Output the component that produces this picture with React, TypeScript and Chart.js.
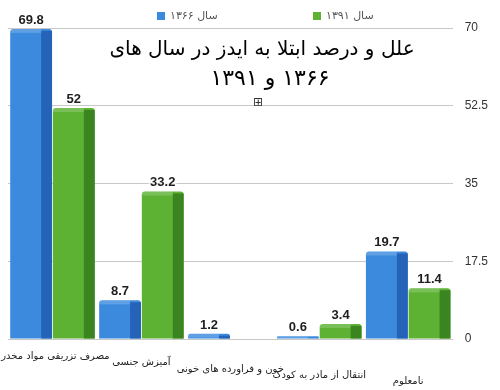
import React, { useEffect, useRef } from "react";
import { Chart, registerables } from "chart.js";

Chart.register(...registerables);

const categories = [
  "مصرف تزریقی مواد مخدر",
  "آمیزش جنسی",
  "خون و فراورده های خونی",
  "انتقال از مادر به کودک",
  "نامعلوم",
];
const series1366 = [69.8, 8.7, 1.2, 0.6, 19.7];
const series1391: (number | null)[] = [52, 33.2, null, 3.4, 11.4];
const seriesNames = ["سال ۱۳۶۶", "سال ۱۳۹۱"];
const yTicks = [0, 17.5, 35, 52.5, 70];
const titleLines = ["علل و درصد ابتلا به ایدز در سال های", "۱۳۶۶ و ۱۳۹۱"];

const FRONT = ["#3c8ade", "#5db234"];
const SIDE = ["#2563b8", "#3b8520"];

const decoPlugin = {
  id: "deco",
  afterDatasetsDraw(chart: any) {
    const ctx = chart.ctx;
    chart.data.datasets.forEach((ds: any, di: number) => {
      const meta = chart.getDatasetMeta(di);
      meta.data.forEach((el: any, i: number) => {
        const v = ds.data[i];
        if (v === null || v === undefined) return;
        const { x, y, base, width } = el.getProps(["x", "y", "base", "width"], true);
        const sideW = width * 0.26;
        ctx.save();
        ctx.fillStyle = SIDE[di];
        ctx.fillRect(x + width / 2 - sideW, y + 2, sideW, base - y - 2);
        ctx.fillStyle = "rgba(255,255,255,0.18)";
        ctx.fillRect(x - width / 2, y, width - sideW, Math.min(4, base - y));
        ctx.restore();
      });
    });
  },
};

const labelPlugin = {
  id: "labels",
  afterDraw(chart: any) {
    const ctx = chart.ctx;
    const area = chart.chartArea;
    // value labels
    chart.data.datasets.forEach((ds: any, di: number) => {
      const meta = chart.getDatasetMeta(di);
      meta.data.forEach((el: any, i: number) => {
        const v = ds.data[i];
        if (v === null || v === undefined) return;
        const { x, y } = el.getProps(["x", "y"], true);
        ctx.save();
        ctx.font = "bold 13px 'Liberation Sans', Arial, sans-serif";
        ctx.textAlign = "center";
        ctx.textBaseline = "alphabetic";
        ctx.lineWidth = 3;
        ctx.strokeStyle = "rgba(255,255,255,0.7)";
        ctx.strokeText(String(v), x, y - 5);
        ctx.fillStyle = "#1e1e1e";
        ctx.fillText(String(v), x, y - 5);
        ctx.restore();
      });
    });
    // category labels (slight perspective drop to the right)
    const xs = chart.scales.x;
    categories.forEach((c, i) => {
      const px = xs.getPixelForTick(i);
      const py = area.bottom + 14 + (px - area.left) * 0.072;
      ctx.save();
      ctx.direction = "rtl";
      ctx.font = "10px 'DejaVu Sans', sans-serif";
      ctx.textAlign = "center";
      ctx.textBaseline = "middle";
      ctx.fillStyle = "#222";
      ctx.fillText(c, px + (i === 0 ? 3 : 0), py);
      ctx.restore();
    });
    // legend
    const legendX = [157, 313];
    seriesNames.forEach((n, i) => {
      ctx.save();
      ctx.fillStyle = FRONT[i];
      ctx.fillRect(legendX[i], 12, 8, 8);
      ctx.font = "11px 'DejaVu Sans', sans-serif";
      ctx.textAlign = "left";
      ctx.textBaseline = "middle";
      ctx.fillStyle = "#555";
      ctx.fillText(n, legendX[i] + 13, 16);
      ctx.restore();
    });
    // title
    ctx.save();
    ctx.direction = "rtl";
    ctx.textAlign = "center";
    ctx.textBaseline = "alphabetic";
    ctx.fillStyle = "#000";
    ctx.font = "20px 'DejaVu Sans', sans-serif";
    ctx.fillText(titleLines[0], 262, 55);
    ctx.font = "22px 'DejaVu Sans', sans-serif";
    ctx.fillText(titleLines[1], 270, 85);
    ctx.font = "12px 'DejaVu Sans', sans-serif";
    ctx.fillStyle = "#333";
    ctx.fillText("⊞", 258, 106);
    ctx.restore();
  },
};

export default function App() {
  const ref = useRef<HTMLCanvasElement | null>(null);
  useEffect(() => {
    document.body.style.margin = "0";
    const chart = new Chart(ref.current as HTMLCanvasElement, {
      type: "bar",
      data: {
        labels: categories,
        datasets: [
          {
            label: seriesNames[0],
            data: series1366,
            backgroundColor: FRONT[0],
            borderRadius: 3,
            categoryPercentage: 0.96,
            barPercentage: 0.98,
          },
          {
            label: seriesNames[1],
            data: series1391,
            backgroundColor: FRONT[1],
            borderRadius: 3,
            categoryPercentage: 0.96,
            barPercentage: 0.98,
          },
        ],
      },
      options: {
        responsive: false,
        animation: false,
        devicePixelRatio: 1,
        layout: { padding: { left: 8, right: 0, top: 28, bottom: 43 } },
        plugins: { legend: { display: false }, title: { display: false }, tooltip: { enabled: false } },
        scales: {
          x: {
            grid: { display: false },
            border: { display: false },
            ticks: { display: false },
          },
          y: {
            position: "right",
            min: 0,
            max: 70,
            afterBuildTicks: (axis: any) => {
              axis.ticks = yTicks.map((v) => ({ value: v }));
            },
            grid: { color: "#c8c8c8", drawTicks: false },
            border: { display: false },
            ticks: {
              padding: 12,
              color: "#333",
              font: { family: "'Liberation Sans', Arial, sans-serif", size: 12 },
              callback: (v: any) => String(v),
            },
          },
        },
      },
      plugins: [decoPlugin, labelPlugin],
    });
    return () => chart.destroy();
  }, []);
  return (
    <div style={{ width: 500, height: 390, background: "#fff" }}>
      <canvas ref={ref} width={500} height={390} />
    </div>
  );
}
